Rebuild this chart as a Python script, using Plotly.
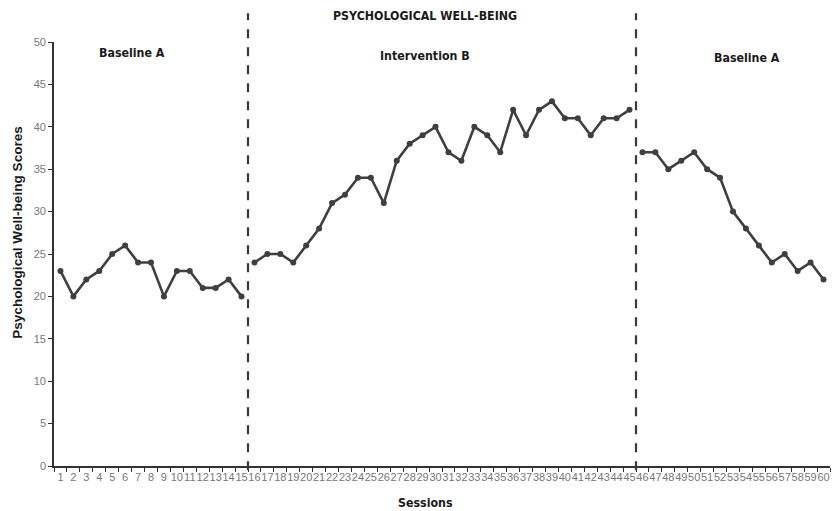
import plotly.graph_objects as go

phase_names = ["Baseline A", "Intervention B", "Baseline A"]
baseline_a1 = [23, 20, 22, 23, 25, 26, 24, 24, 20, 23, 23, 21, 21, 22, 20]
intervention_b = [24, 25, 25, 24, 26, 28, 31, 32, 34, 34, 31, 36, 38, 39, 40,
                  37, 36, 40, 39, 37, 42, 39, 42, 43, 41, 41, 39, 41, 41, 42]
baseline_a2 = [37, 37, 35, 36, 37, 35, 34, 30, 28, 26, 24, 25, 23, 24, 22]
phases = [baseline_a1, intervention_b, baseline_a2]

n_total = sum(len(p) for p in phases)
sessions = [str(i) for i in range(1, n_total + 1)]

LINE = "#3f3f3f"
fig = go.Figure()
start = 0
boundaries = []
for vals in phases:
    xs = sessions[start:start + len(vals)]
    fig.add_trace(go.Scatter(x=xs, y=vals, mode="lines+markers",
                             line=dict(color=LINE, width=2.6),
                             marker=dict(color=LINE, size=6),
                             showlegend=False, hoverinfo="x+y", cliponaxis=False))
    start += len(vals)
    boundaries.append(start)

# phase separators (category index space: boundary between idx b-1 and b)
for b in boundaries[:-1]:
    fig.add_shape(type="line", xref="x", yref="paper",
                  x0=b - 0.5, x1=b - 0.5, y0=-0.01, y1=1.068,
                  line=dict(color="#3a3a3a", width=2.2, dash="dash"))

COND = "DejaVu Sans Condensed"
label_font = dict(family=COND, size=12.3, color="#1a1a1a")
label_x = [0.1005, 0.478, 0.893]
label_y = [0.974, 0.967, 0.962]
for name, xp, yp in zip(phase_names, label_x, label_y):
    fig.add_annotation(x=xp, y=yp, xref="paper", yref="paper", text=f"<b>{name}</b>",
                       xanchor="center", yanchor="middle",
                       showarrow=False, font=label_font)

fig.add_annotation(x=0.478, y=1.061, xref="paper", yref="paper",
                   xanchor="center", yanchor="middle",
                   text="<b>PSYCHOLOGICAL WELL-BEING</b>", showarrow=False, font=label_font)
fig.add_annotation(x=0.479, y=-0.087, xref="paper", yref="paper",
                   xanchor="center", yanchor="middle",
                   text="<b>Sessions</b>", showarrow=False, font=label_font)
fig.add_annotation(x=-0.0465, y=0.552, xref="paper", yref="paper",
                   xanchor="center", yanchor="middle", textangle=-90,
                   text="<b>Psychological Well-being Scores</b>", showarrow=False,
                   font=dict(family="Liberation Sans", size=13.6, color="#1a1a1a"))

fig.update_layout(
    width=833, height=511,
    margin=dict(l=54, r=3, t=42, b=45),
    plot_bgcolor="white", paper_bgcolor="white",
    font=dict(family="Liberation Sans", color="#666666"),
)
fig.update_xaxes(type="category", tickmode="linear", dtick=1, tickangle=0,
                 tickson="boundaries", ticks="outside", ticklen=4, tickwidth=1.2,
                 tickcolor="#333333", showline=True, linecolor="#333333", linewidth=1.6,
                 showgrid=False, tickfont=dict(size=11, color="#777777"),
                 range=[-0.5, n_total - 0.5], automargin=False)
fig.update_yaxes(range=[0, 50], dtick=5, ticks="outside", ticklen=4, tickwidth=1.2,
                 tickcolor="#333333", showline=True, linecolor="#333333", linewidth=1.6,
                 showgrid=False, zeroline=False, tickfont=dict(size=11, color="#777777"),
                 automargin=False)

# remove the default 8px page margin so the figure fills the window exactly
fig.write_html("out.html", config={"displayModeBar": False},
               post_script="document.body.style.margin='0';document.body.style.overflow='hidden';")
